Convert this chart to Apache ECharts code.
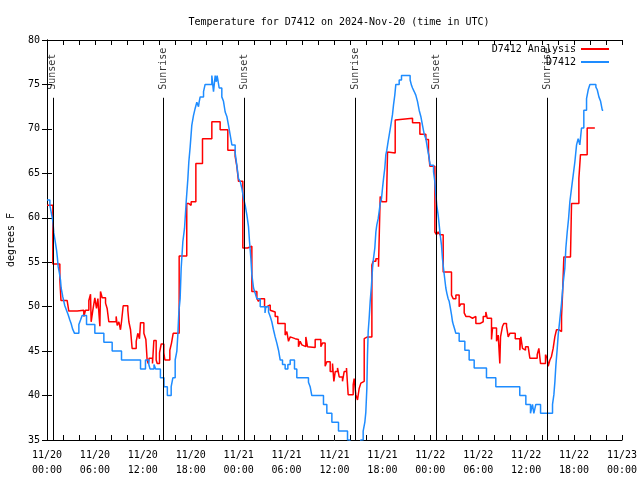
<!DOCTYPE html>
<html><head><meta charset="utf-8">
<script src="https://cdn.jsdelivr.net/npm/echarts@6/dist/echarts.min.js"></script>
<style>html,body{margin:0;padding:0;background:#fff}#c{width:640px;height:480px}</style>
</head><body><div id="c"></div>
<script>
const titleText = 'Temperature for D7412 on 2024-Nov-20 (time in UTC)';
const yName = 'degrees F';
const dayLabels = ['11/20', '11/21', '11/22', '11/23'];
const seriesNames = ['D7412 Analysis', 'D7412'];

// Observations (hours since 11/20 00:00 UTC, degrees F)
const obsHours = [
  0, 0.36, 0.55, 0.75, 0.85, 1.0, 1.19, 1.3, 1.4, 1.55,
  1.69, 1.77, 1.98, 2.23, 2.44, 2.65, 2.86, 3.02, 3.2, 3.45,
  3.99, 4.2, 4.4, 4.95, 5.99, 7.12, 8.16, 9.33, 11.71, 12.33,
  12.75, 12.9, 13.4, 13.6, 14.2, 14.65, 15.07, 15.55, 15.76, 16.05,
  16.26, 16.38, 16.51, 16.67, 16.8, 17.01, 17.22, 17.43, 17.64, 17.76,
  17.93, 18.13, 18.34, 18.55, 18.76, 18.97, 19.05, 19.18, 19.6, 19.8,
  20.64, 20.75, 20.85, 21.06, 21.2, 21.3, 21.4, 21.56, 21.89, 22.1,
  22.31, 22.52, 22.73, 22.94, 23.15, 23.56, 23.77, 23.98, 24.19, 24.4,
  24.61, 24.82, 25.03, 25.23, 25.36, 25.53, 25.65, 25.86, 26.07, 26.28,
  26.7, 27.3, 27.4, 27.74, 27.95, 28.15, 28.36, 28.57, 28.78, 28.99,
  29.2, 29.49, 29.82, 30.16, 30.45, 30.99, 31.28, 32.74, 32.95, 33.16,
  34.62, 35.04, 35.67, 36.5, 37.63, 37.92, 38.5, 39.1, 39.3, 39.59,
  39.8, 39.92, 40.05, 40.13, 40.22, 40.34, 40.47, 40.63, 40.76, 40.88,
  41.05, 41.18, 41.3, 41.47, 41.59, 41.72, 41.89, 42.01, 42.14, 42.3,
  42.43, 42.55, 42.72, 42.85, 43.05, 43.26, 43.39, 43.55, 43.68, 44.1,
  44.39, 45.47, 45.64, 45.77, 45.98, 46.18, 46.39, 46.6, 46.81, 47.02,
  47.23, 47.44, 47.64, 47.85, 47.98, 48.4, 48.56, 48.69, 48.81, 48.98,
  49.11, 49.23, 49.4, 49.52, 49.65, 49.82, 49.94, 50.07, 50.23, 50.36,
  50.48, 50.65, 50.78, 50.9, 51.07, 51.19, 51.61, 52.32, 52.86, 53.49,
  55.03, 56.2, 59.2, 59.96, 60.54, 60.79, 60.96, 61.21, 61.8, 63.3,
  63.47, 63.6, 63.72, 63.89, 64.01, 64.22, 64.43, 64.64, 64.84, 64.97,
  65.14, 65.31, 65.47, 65.68, 65.89, 66.1, 66.31, 66.51, 66.72, 66.93,
  67.22, 67.56, 67.77, 67.98, 68.73, 68.9, 69.11, 69.32, 69.53, 69.65
];
const obsTemps = [
  62, 61.4, 60.5, 59.5, 58.3, 57.5, 56.4, 55.5, 54.5, 53.8,
  53.0, 52.1, 51.1, 50.1, 49.6, 49.1, 48.5, 48.1, 47.5, 47.0,
  48.0, 48.5, 49.0, 48.0, 47.0, 46.0, 45.0, 44.0, 43.0, 44.0,
  43.5, 43.0, 43.5, 43.0, 42.0, 41.0, 40.0, 41.0, 42.0, 44.0,
  45.0, 46.8, 49.4, 50.9, 54.3, 57.3, 58.8, 61.8, 64.4, 66.3,
  68.0, 70.4, 71.5, 72.3, 73.0, 72.5, 73.0, 73.6, 74.2, 75.0,
  76.0, 75.0, 74.2, 76.0, 75.3, 76.0, 75.5, 74.6, 73.6, 73.1,
  71.9, 71.4, 70.4, 69.3, 68.2, 67.3, 65.9, 64.4, 64.1, 63.3,
  62.2, 61.4, 60.3, 59.0, 57.3, 55.4, 53.6, 52.1, 51.5, 50.9,
  50.0, 49.3, 50.0, 49.4, 48.9, 48.3, 47.4, 46.6, 45.9, 45.1,
  44.0, 43.5, 43.0, 43.5, 44.0, 43.0, 42.0, 41.5, 41.0, 40.0,
  39.0, 38.0, 37.0, 36.0, 35.0, 33.5, 33.0, 34.0, 35.0, 36.0,
  37.0, 38.1, 40.8, 44.6, 47.2, 48.7, 50.6, 52.4, 54.3, 55.4,
  56.6, 58.4, 59.2, 59.9, 60.7, 61.6, 62.2, 63.3, 64.4, 65.6,
  67.1, 67.6, 68.6, 69.3, 70.4, 71.6, 72.7, 73.8, 75.0, 75.5,
  76.0, 75.5, 74.9, 74.6, 74.2, 73.8, 73.1, 72.1, 71.4, 70.4,
  69.4, 68.9, 67.8, 66.7, 65.9, 65.2, 64.1, 62.6, 61.4, 60.3,
  59.2, 58.1, 56.9, 55.4, 54.3, 53.0, 52.1, 51.5, 50.9, 50.6,
  50.0, 49.1, 48.3, 47.9, 47.4, 47.0, 46.1, 45.1, 44.0, 43.1,
  42.0, 41.0, 40.0, 39.0, 38.0, 39.0, 38.0, 39.0, 38.0, 39.0,
  40.1, 41.6, 43.4, 45.3, 46.8, 48.6, 50.4, 52.7, 54.3, 56.6,
  58.4, 59.9, 61.8, 63.3, 64.8, 66.3, 68.2, 68.9, 68.2, 70.1,
  72.1, 73.4, 74.4, 75.0, 74.7, 74.4, 73.6, 73.1, 72.1, 72.1
];

// Analysis
const anaHours = [
  0, 0.73, 1.61, 1.75, 2.52, 2.73, 3.78, 4.61, 4.82, 5.24,
  5.45, 5.53, 5.74, 5.99, 6.2, 6.37, 6.62, 6.7, 6.91, 7.33,
  7.53, 7.74, 8.66, 8.79, 9.0, 9.2, 9.33, 9.54, 10.12, 10.25,
  10.46, 10.66, 11.17, 11.37, 11.58, 11.71, 12.13, 12.38, 12.54, 12.67,
  12.79, 13.21, 13.38, 13.67, 13.8, 14.09, 14.3, 14.63, 14.76, 15.38,
  15.59, 15.8, 16.55, 17.5, 17.76, 18.05, 18.64, 19.47, 20.64, 21.68,
  22.64, 23.56, 23.77, 23.98, 24.52, 25.11, 25.65, 26.28, 26.48, 26.7,
  27.24, 27.53, 27.95, 28.15, 28.57, 28.9, 29.82, 30.03, 30.24, 30.45,
  30.66, 31.07, 31.49, 31.7, 31.91, 32.12, 32.41, 32.62, 32.83, 33.58,
  34.29, 34.5, 34.83, 35.04, 35.46, 35.75, 35.92, 36.09, 36.38, 36.59,
  37.0, 37.21, 37.5, 37.71, 38.34, 38.46, 38.67, 38.88, 39.09, 39.3,
  39.51, 39.72, 39.92, 40.13, 40.34, 40.68, 40.84, 41.18, 41.51, 41.72,
  41.93, 42.51, 42.64, 42.85, 43.6, 43.77, 45.77, 46.69, 47.44, 47.77,
  47.94, 48.57, 48.77, 48.98, 49.19, 49.61, 50.65, 50.86, 51.2, 51.61,
  51.82, 52.24, 52.45, 52.87, 53.28, 53.7, 54.2, 54.62, 54.95, 55.12,
  55.66, 55.79, 56.29, 56.5, 56.7, 56.79, 57.04, 57.2, 57.54, 57.75,
  57.96, 58.63, 59.21, 59.33, 59.54, 59.71, 59.92, 60.25, 60.46, 61.38,
  61.59, 61.8, 62.42, 62.63, 62.76, 62.97, 63.17, 63.38, 63.59, 63.8,
  64.13, 64.43, 64.55, 64.72, 65.55, 65.68, 66.6, 66.8, 67.64, 68.6
];
const anaTemps = [
  61.4, 54.8, 53.0, 50.7, 50.6, 49.5, 49.6, 48.9, 49.6, 50.7,
  51.4, 48.3, 49.6, 51.0, 49.8, 50.9, 47.8, 51.7, 51.0, 50.4,
  49.8, 48.3, 48.9, 47.9, 48.3, 47.4, 48.3, 50.1, 49.6, 48.3,
  47.4, 45.3, 46.1, 47.0, 46.4, 48.2, 47.0, 46.3, 44.0, 43.6,
  44.2, 43.6, 46.2, 44.0, 43.6, 44.8, 45.8, 44.8, 44.0, 45.1,
  45.9, 47.0, 55.7, 61.6, 61.4, 61.8, 66.1, 68.9, 70.8, 69.9,
  67.6, 66.9, 65.8, 64.1, 56.6, 56.8, 51.7, 50.9, 50.6, 50.9,
  50.0, 50.2, 49.6, 49.4, 48.9, 48.1, 46.8, 47.2, 46.1, 46.6,
  46.4, 46.3, 45.5, 46.1, 45.7, 45.5, 46.6, 45.5, 45.4, 46.3,
  45.5, 45.9, 43.3, 43.8, 42.7, 43.6, 41.6, 42.7, 43.1, 42.1,
  41.6, 42.7, 43.1, 40.1, 41.2, 41.9, 40.1, 39.5, 40.8, 41.4,
  41.6, 46.4, 46.6, 46.8, 46.6, 54.7, 55.1, 55.4, 54.5, 62.4,
  61.8, 61.6, 67.4, 67.3, 71.0, 71.2, 70.7, 69.4, 68.8, 67.4,
  65.8, 58.4, 58.1, 58.4, 58.1, 53.9, 51.3, 50.9, 51.3, 50.0,
  50.3, 49.3, 48.9, 48.7, 48.9, 48.1, 48.3, 48.9, 49.4, 48.7,
  46.3, 47.6, 46.1, 46.8, 43.6, 46.6, 47.8, 48.1, 47.8, 46.6,
  47.0, 46.4, 45.1, 46.6, 45.3, 45.1, 45.5, 45.3, 44.2, 44.6,
  45.3, 43.6, 44.6, 44.2, 43.3, 44.0, 44.4, 45.3, 46.6, 47.4,
  47.2, 48.9, 51.3, 55.6, 55.4, 61.6, 64.4, 67.1, 70.1, 70.1
];

// Sun events
const sunHours = [0.73, 14.6, 24.75, 38.65, 48.7, 62.7];
const sunNames = ['Sunset', 'Sunrise', 'Sunset', 'Sunrise', 'Sunset', 'Sunrise'];
const sunLineTop = 73.5;

const yMin = 35, yMax = 80, yStep = 5;
const xMin = 0, xMax = 72, xStep = 2, labelStep = 6;

const FONT = 'DejaVu Sans Mono';
const zip = (a, b) => a.map((v, i) => [v, b[i]]);
const pad = n => (n < 10 ? '0' : '') + n;

const chart = echarts.init(document.getElementById('c'), null, {renderer: 'canvas'});
const axisCommon = {
  axisLine: {show: true, lineStyle: {color: '#000', width: 1}},
  axisTick: {show: true, inside: true, length: 5, lineStyle: {color: '#000', width: 1}},
  splitLine: {show: false}
};
chart.setOption({
  animation: false,
  backgroundColor: '#fff',
  title: {
    text: titleText, left: 334, top: 12, textAlign: 'center',
    textStyle: {fontFamily: FONT, fontSize: 10, fontWeight: 'normal', color: '#000'}
  },
  legend: {
    orient: 'vertical', right: 31, top: 43, align: 'right', padding: 0,
    itemWidth: 28, itemHeight: 2, itemGap: 1, icon: 'rect', selectedMode: false,
    textStyle: {fontFamily: FONT, fontSize: 10, color: '#000', lineHeight: 12},
    data: seriesNames
  },
  grid: {left: 47, right: 18, top: 40, bottom: 40, containLabel: false, outerBoundsMode: 'none'},
  xAxis: [
    Object.assign({}, axisCommon, {
      type: 'value', position: 'bottom', min: xMin, max: xMax, interval: xStep,
      axisLabel: {
        show: true, margin: 8, lineHeight: 15, fontFamily: FONT, fontSize: 10, color: '#000',
        formatter: v => {
          if (v % labelStep !== 0) return '';
          const d = Math.floor(v / 24), h = v % 24;
          return dayLabels[d] + '\n' + pad(h) + ':00';
        }
      }
    }),
    Object.assign({}, axisCommon, {
      type: 'value', position: 'top', min: xMin, max: xMax, interval: xStep,
      axisLabel: {show: false}
    })
  ],
  yAxis: [
    Object.assign({}, axisCommon, {
      type: 'value', position: 'left', min: yMin, max: yMax, interval: yStep,
      name: yName, nameLocation: 'middle', nameGap: 31,
      nameTextStyle: {fontFamily: FONT, fontSize: 10, color: '#000'},
      axisLabel: {show: true, margin: 7, fontFamily: FONT, fontSize: 10, color: '#000'}
    }),
    Object.assign({}, axisCommon, {
      type: 'value', position: 'right', min: yMin, max: yMax, interval: yStep,
      axisLabel: {show: false}
    })
  ],
  series: [
    {
      name: 'sun', type: 'scatter', symbolSize: 0, silent: true, z: 1,
      data: sunHours.map((h, i) => ({value: [h, sunLineTop], name: sunNames[i]})),
      label: {
        show: true, position: 'top', distance: 6, rotate: 90, align: 'left', verticalAlign: 'middle',
        offset: [2, 0],
        formatter: p => p.name, fontFamily: FONT, fontSize: 10, color: '#000'
      },
      markLine: {
        silent: true, symbol: ['none', 'none'], animation: false,
        lineStyle: {color: '#000', width: 1, type: 'solid'},
        label: {show: false},
        emphasis: {disabled: true},
        data: sunHours.map(h => [{coord: [h, yMin]}, {coord: [h, sunLineTop]}])
      }
    },
    {
      name: seriesNames[0], type: 'line', step: 'end', showSymbol: false, symbol: 'none',
      color: '#ff0000', lineStyle: {color: '#ff0000', width: 1.5}, z: 2,
      data: zip(anaHours, anaTemps)
    },
    {
      name: seriesNames[1], type: 'line', step: 'end', showSymbol: false, symbol: 'none',
      color: '#1e8cff', lineStyle: {color: '#1e8cff', width: 1.5}, z: 3,
      data: zip(obsHours, obsTemps)
    }
  ]
});
</script>
</body></html>
